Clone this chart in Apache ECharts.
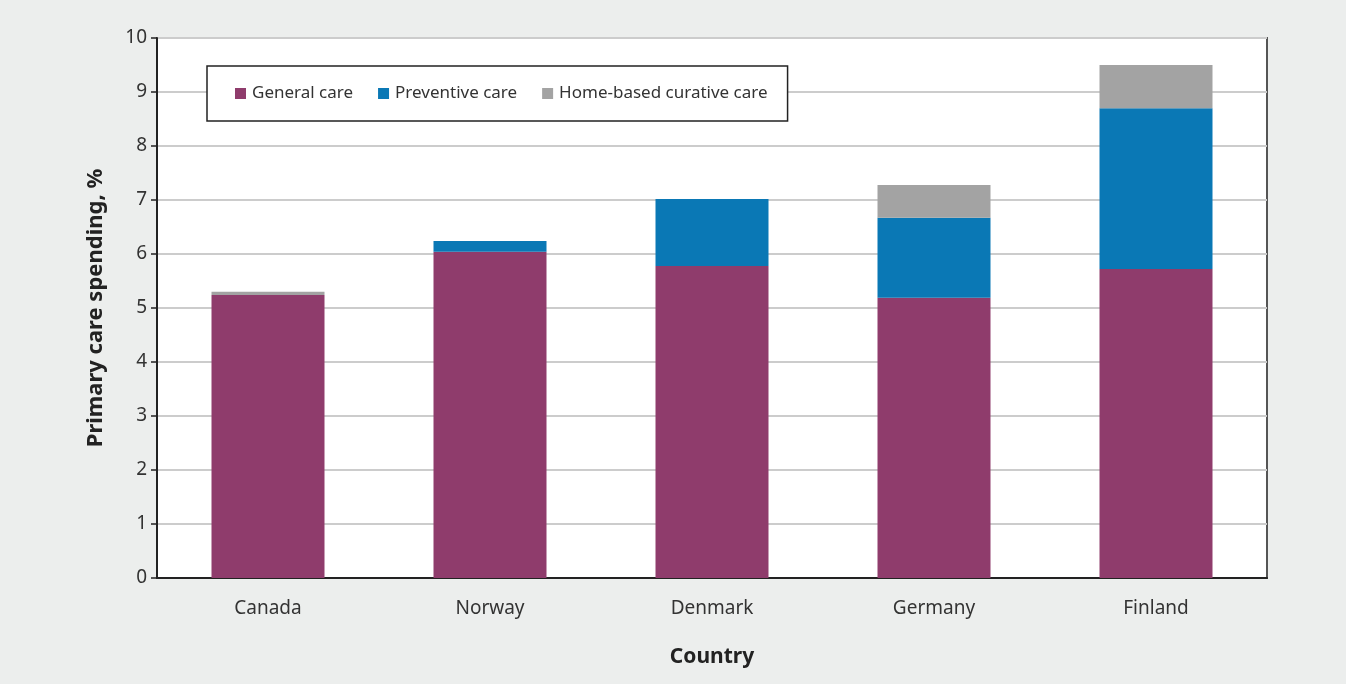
<!DOCTYPE html>
<html>
<head>
<meta charset="utf-8">
<style>
  html, body { margin: 0; padding: 0; background: #eceeed; }
  #chart { width: 1346px; height: 684px; }
</style>
<script src="https://cdn.jsdelivr.net/npm/echarts@6/dist/echarts.min.js"></script>
</head>
<body>
<div id="chart"></div>
<script>
// Primary care spending share by country, split into three components
const countries = ['Canada', 'Norway', 'Denmark', 'Germany', 'Finland'];
const generalCare = [5.24, 6.04, 5.78, 5.19, 5.72];
const preventiveCare = [0, 0.20, 1.24, 1.48, 2.98];
const homeBasedCare = [0.06, 0, 0, 0.61, 0.80];
const yTicks = [0, 1, 2, 3, 4, 5, 6, 7, 8, 9, 10];

const FONT = '"Noto Sans", "Open Sans", sans-serif';
const chart = echarts.init(document.getElementById('chart'), null, { renderer: 'canvas' });

function barSeries(name, data, color) {
  return {
    name, type: 'bar', stack: 'total', data,
    barWidth: 113,
    itemStyle: { color },
    emphasis: { disabled: true },
    silent: true
  };
}

chart.setOption({
  backgroundColor: '#eceeed',
  animation: false,
  textStyle: { fontFamily: FONT },
  grid: {
    left: 157, right: 79, top: 38, bottom: 106,
    show: true, backgroundColor: '#ffffff',
    borderColor: '#555555', borderWidth: 2
  },
  legend: {
    left: 207, top: 66,
    itemWidth: 11, itemHeight: 11, itemGap: 25,
    padding: [19, 20, 19, 28],
    backgroundColor: '#ffffff',
    borderColor: '#222222', borderWidth: 1.5, borderRadius: 0,
    icon: 'rect',
    textStyle: { fontFamily: FONT, fontSize: 17, color: '#333333', padding: [0, 0, 0, 1] },
    data: ['General care', 'Preventive care', 'Home-based curative care']
  },
  xAxis: {
    type: 'category',
    data: countries,
    name: 'Country',
    nameLocation: 'middle',
    nameGap: 69,
    nameTextStyle: { fontFamily: FONT, fontSize: 21, fontWeight: 'bold', color: '#222222' },
    axisLine: { lineStyle: { color: '#222222', width: 2 } },
    axisTick: { show: false },
    axisLabel: { fontFamily: FONT, fontSize: 19, color: '#333333', margin: 21 }
  },
  yAxis: {
    type: 'value',
    min: yTicks[0], max: yTicks[yTicks.length - 1], interval: 1,
    name: 'Primary care spending, %',
    nameLocation: 'middle',
    nameGap: 50,
    nameTextStyle: { fontFamily: FONT, fontSize: 22, fontWeight: 'bold', color: '#222222' },
    axisLine: { show: true, lineStyle: { color: '#222222', width: 2 } },
    axisTick: { show: true, length: 6, lineStyle: { color: '#222222', width: 1.5 } },
    axisLabel: { fontFamily: FONT, fontSize: 19, color: '#333333', margin: 10 },
    splitLine: { lineStyle: { color: '#cccccc', width: 2 } }
  },
  series: [
    barSeries('General care', generalCare, '#8f3c6c'),
    barSeries('Preventive care', preventiveCare, '#0a78b5'),
    barSeries('Home-based curative care', homeBasedCare, '#a3a3a3')
  ]
});
</script>
</body>
</html>
